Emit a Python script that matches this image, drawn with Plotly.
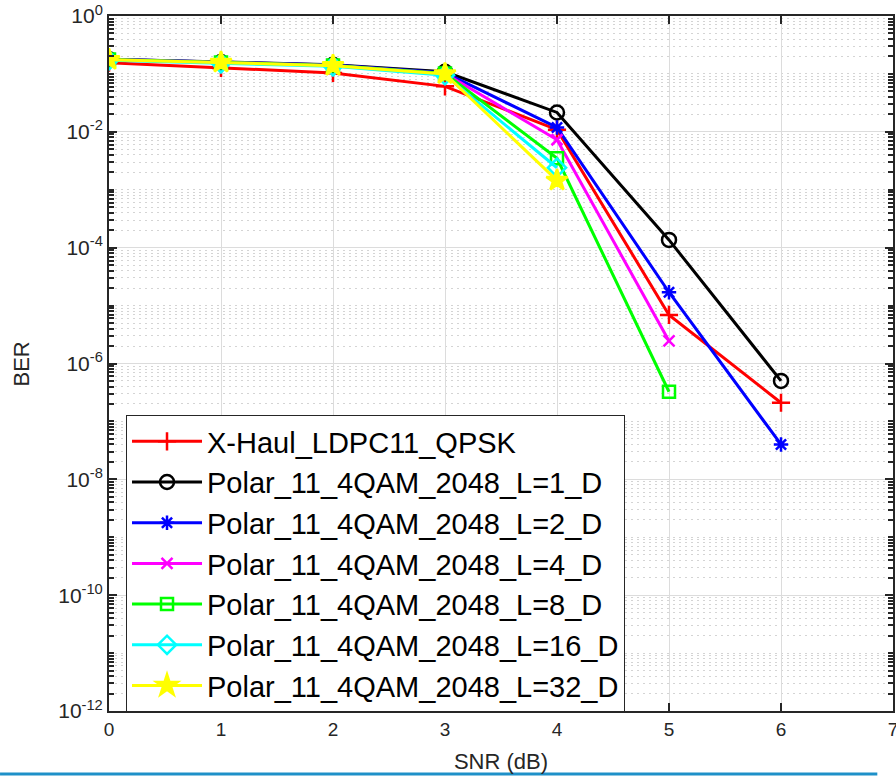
import plotly.graph_objects as go

# ---------------- data ----------------
snr_db = [0, 1, 2, 3, 4, 5, 6]

ber_ldpc_qpsk = [0.156, 0.127, 0.104, 0.061, 0.0109, 6.9e-6, 2.1e-7]
ber_polar_L1 = [0.180, 0.160, 0.144, 0.109, 0.0216, 1.36e-4, 5.0e-7]
ber_polar_L2 = [0.180, 0.160, 0.143, 0.105, 0.0119, 1.7e-5, 4.0e-8]
ber_polar_L4 = [0.178, 0.158, 0.140, 0.102, 0.0073, 2.45e-6]
ber_polar_L8 = [0.178, 0.158, 0.140, 0.102, 0.0035, 3.25e-7]
ber_polar_L16 = [0.172, 0.152, 0.135, 0.095, 0.0024]
ber_polar_L32 = [0.176, 0.158, 0.139, 0.100, 0.00145]

series_names = [
    "X-Haul_LDPC11_QPSK",
    "Polar_11_4QAM_2048_L=1_D",
    "Polar_11_4QAM_2048_L=2_D",
    "Polar_11_4QAM_2048_L=4_D",
    "Polar_11_4QAM_2048_L=8_D",
    "Polar_11_4QAM_2048_L=16_D",
    "Polar_11_4QAM_2048_L=32_D",
]
series_values = [ber_ldpc_qpsk, ber_polar_L1, ber_polar_L2, ber_polar_L4,
                 ber_polar_L8, ber_polar_L16, ber_polar_L32]

x_tickvals = [0, 1, 2, 3, 4, 5, 6, 7]
y_tick_exponents = [0, -2, -4, -6, -8, -10, -12]

# ---------------- styles ----------------
colors = ["#ff0000", "#000000", "#0000ff", "#ff00ff", "#00ff00", "#00ffff", "#ffff00"]
symbols = ["cross-thin-open", "circle-open", "asterisk-open", "x-thin-open",
           "square-open", "diamond-open", "star"]
msizes = [13, 14, 12, 11, 12, 14, 16]

fig = go.Figure()
for name, vals, c, s, ms in zip(series_names, series_values, colors, symbols, msizes):
    fig.add_trace(go.Scatter(
        x=snr_db[:len(vals)], y=vals, name=name, mode="lines+markers",
        line=dict(color=c, width=3),
        marker=dict(symbol=s, size=ms, color=c, line=dict(color=c, width=2.5)),
        legendgroup=name,
    ))

y_tickvals = [10.0 ** e for e in y_tick_exponents]
y_ticktext = ["10<sup>%d</sup>" % e for e in y_tick_exponents]
minor_vals = [k * 10.0 ** e for e in range(-12, 0) for k in range(1, 10)
              if not (k == 1 and e in y_tick_exponents)]

axis_col = "#262626"
font_fam = "Liberation Sans, Arial, sans-serif"

fig.update_layout(
    width=896, height=776,
    margin=dict(l=109, r=3, t=16, b=65, autoexpand=False),
    paper_bgcolor="white", plot_bgcolor="white",
    font=dict(family=font_fam, color=axis_col),
    showlegend=True,
    legend=dict(
        x=0.0217, y=0.426, xanchor="left", yanchor="top",
        bgcolor="white", bordercolor="#262626", borderwidth=1,
        font=dict(family=font_fam, size=29, color="black"),
        itemwidth=70, tracegroupgap=0,
    ),
    xaxis=dict(
        range=[0, 7], tickvals=x_tickvals, ticks="inside", ticklen=8,
        tickwidth=1.5, tickcolor=axis_col, automargin=False, ticklabeloverflow="allow",
        showline=True, linecolor=axis_col, linewidth=2, mirror="ticks",
        showgrid=True, gridcolor="#dcdcdc", gridwidth=1, zeroline=False,
        tickfont=dict(size=19, color=axis_col),
        title=dict(text="SNR (dB)", font=dict(size=22, color=axis_col)),
    ),
    yaxis=dict(
        type="log", range=[-12, 0], tickvals=y_tickvals, ticktext=y_ticktext,
        ticks="inside", ticklen=8, tickwidth=1.5, tickcolor=axis_col, automargin=False,
        showline=True, linecolor=axis_col, linewidth=2, mirror="ticks",
        showgrid=True, gridcolor="#dcdcdc", gridwidth=1, zeroline=False,
        tickfont=dict(size=21, color=axis_col),
        minor=dict(tickvals=minor_vals, ticks="inside", ticklen=5, tickcolor=axis_col,
                   tickwidth=1.5, showgrid=True, gridcolor="#d4d4d4", griddash="2px,4px",
                   gridwidth=1),
    ),
    annotations=[dict(text="BER", xref="paper", yref="paper", x=-0.111, y=0.5,
                      xanchor="center", yanchor="middle", textangle=-90, showarrow=False,
                      font=dict(family=font_fam, size=22, color=axis_col))],
    shapes=[dict(type="line", xref="paper", yref="paper", x0=-0.139, x1=0.98,
                 y0=-0.0906, y1=-0.0906, line=dict(color="#1e90c8", width=3))],
)

fig.write_html("out.html", config={"displayModeBar": False},
               post_script="document.body.style.margin='0px';document.body.style.overflow='hidden';")
